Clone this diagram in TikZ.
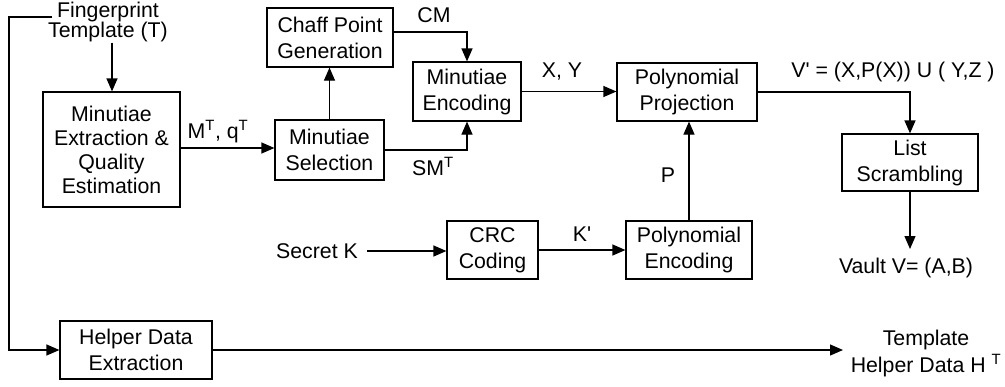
\documentclass[tikz,border=0pt]{standalone}
\usepackage{fontspec}
\setmainfont{Liberation Sans}[Ligatures=TeXOff]
\usetikzlibrary{arrows.meta,calc}
\begin{document}
\begin{tikzpicture}[x=1pt,y=-1pt,
  font=\fontsize{21.3}{26}\selectfont,
  box/.style={draw,line width=1.2pt,align=center,inner sep=0pt},
  lbl/.style={anchor=base,inner sep=0pt},
  txt/.style={align=center,inner sep=0pt},
  link/.style={line width=1.2pt},
  arr/.style={link,-{Triangle[length=13pt,width=11pt]}}]
\useasboundingbox (0,0) rectangle (1005,386);

% processing blocks
\node[box,minimum width=137pt,minimum height=115pt,font=\fontsize{21.3}{24}\selectfont]
  (ext) at (111.5,149.5) {Minutiae\\Extraction \&\\Quality\\Estimation};
\node[box,minimum width=109pt,minimum height=60pt] (sel) at (329.5,150) {Minutiae\\Selection};
\node[box,minimum width=126pt,minimum height=59pt] (chaff) at (330,37.5) {Chaff Point\\Generation};
\node[box,minimum width=108pt,minimum height=59pt] (enc) at (467,91.5) {Minutiae\\Encoding};
\node[box,minimum width=140pt,minimum height=58pt] (proj) at (687,92) {Polynomial\\Projection};
\node[box,minimum width=136pt,minimum height=57pt] (list) at (910,162.5) {List\\Scrambling};
\node[box,minimum width=91pt,minimum height=58pt] (crc) at (492.5,250) {CRC\\Coding};
\node[box,minimum width=126pt,minimum height=58pt] (penc) at (689,250) {Polynomial\\Encoding};
\node[box,minimum width=152pt,minimum height=58pt] (helper) at (136,350) {Helper Data\\Extraction};

% inputs and outputs
\node[txt,font=\fontsize{21.3}{19}\selectfont] (fp) at (108,22) {Fingerprint\\Template (T)};
\node[lbl] (secret) at (317,258) {Secret K};
\node[lbl] (vault) at (906,273) {Vault V= (A,B)};
\node[txt,font=\fontsize{21.3}{27}\selectfont] (tmpl) at (926,353) {Template\\Helper Data H \textsuperscript{T}};

% edge labels
\node[lbl] (lmq) at (218,138) {M\textsuperscript{T}, q\textsuperscript{T}};
\node[lbl] (lcm) at (434,22) {CM};
\node[lbl] (lsm) at (433,175) {SM\textsuperscript{T}};
\node[lbl] (lxy) at (562,77) {X, Y};
\node[lbl] (lv) at (893,77) {V' = (X,P(X)) U ( Y,Z )};
\node[lbl] (lp) at (668,182) {P};
\node[lbl] (lk) at (582,241) {K'};

% connectors
\coordinate (fpTail) at (52,17);
\coordinate (loop) at (9,17);
\draw[arr] (fp.south -| 112,0) -- (112,0 |- ext.north);
\draw[arr] (fpTail) -- (loop) |- (helper.west);
\draw[arr] (ext.east |- 0,148) -- (sel.west |- 0,148);
\draw[arr] (sel.north) -- (sel.north |- chaff.south);
\draw[arr] ($(chaff.east)+(0,-5.5)$) -| (enc.north);
\draw[arr] (sel.east) -| (enc.south);
\draw[arr] (enc.east) -- (enc.east -| proj.west);
\draw[arr] (proj.east) -| (list.north);
\draw[arr] (list.south) -- (list.south |- 0,249);
\draw[arr] (penc.north) -- (penc.north |- proj.south);
\draw[arr] (367,251) -- (crc.west |- 0,251);
\draw[arr] (crc.east) -- (penc.west);
\draw[arr] (helper.east) -- (843,350);
\end{tikzpicture}
\end{document}
